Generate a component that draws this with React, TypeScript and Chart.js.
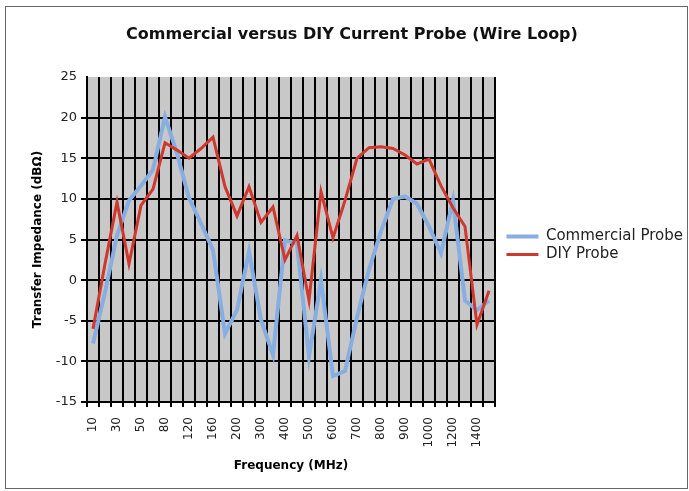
import React, { useEffect, useRef } from 'react';
import { Chart, registerables } from 'chart.js';

Chart.register(...registerables);

const categories = ['10', '20', '30', '40', '50', '60', '80', '100', '120', '140', '160', '180', '200', '250', '300', '350', '400', '450', '500', '550', '600', '650', '700', '750', '800', '850', '900', '950', '1000', '1100', '1200', '1300', '1400', '1500'];

const commercialProbe = [-7.8, -1.5, 5.5, 9.8, 11.6, 13.6, 20.1, 15.6, 10.1, 7.0, 3.7, -6.6, -3.7, 3.5, -4.9, -9.2, 4.9, 4.5, -9.4, 0.0, -11.8, -11.2, -4.6, 1.3, 6.0, 10.0, 10.3, 9.4, 6.6, 3.3, 9.8, -2.5, -3.7, -2.5];

const diyProbe = [-6.0, 2.0, 9.6, 2.0, 9.2, 11.2, 16.9, 16.0, 15.0, 16.2, 17.6, 11.5, 7.9, 11.5, 7.1, 9.0, 2.5, 5.5, -2.5, 10.9, 5.2, 9.8, 15.0, 16.3, 16.4, 16.2, 15.4, 14.3, 14.9, 11.6, 8.9, 6.6, -5.5, -1.3];

const seriesNames = ['Commercial Probe', 'DIY Probe'];
const yMin = -15;
const yMax = 25;
const yStep = 5;

const FONT = '"DejaVu Sans", Verdana, sans-serif';
const W = 689;
const H = 491;

export default function App() {
  const ref = useRef<HTMLCanvasElement>(null);

  useEffect(() => {
    const canvas = ref.current;
    if (!canvas) return;

    const legendFontSize = 15;
    const legendPad = 3;
    const boxW = 32;
    const mctx = document.createElement('canvas').getContext('2d')!;
    mctx.font = `${legendFontSize}px ${FONT}`;
    const textW = Math.max(...seriesNames.map((t) => mctx.measureText(t).width));
    const legendW = legendPad + boxW + legendFontSize / 2 + textW;

    const padLeft = 21;
    const padRight = 6;
    const plotLeft = 87;
    const plotRight = 495;
    const plotBottom = 402;
    const gapW = Math.max(0, W - padRight - legendW - plotRight);

    const bgPlugin = {
      id: 'plotBg',
      beforeDraw(chart: any) {
        const { ctx, chartArea } = chart;
        ctx.save();
        ctx.fillStyle = '#c8c8c8';
        ctx.fillRect(chartArea.left, chartArea.top, chartArea.right - chartArea.left, chartArea.bottom - chartArea.top);
        ctx.restore();
      },
    };

    Chart.defaults.font.family = FONT;

    const chart = new Chart(canvas, {
      type: 'line',
      data: {
        labels: categories,
        datasets: [
          {
            label: seriesNames[0],
            data: commercialProbe,
            borderColor: '#86aee0',
            backgroundColor: '#86aee0',
            borderWidth: 4,
            pointRadius: 0,
            tension: 0,
            order: 1,
          },
          {
            label: seriesNames[1],
            data: diyProbe,
            borderColor: '#d0382d',
            backgroundColor: '#d0382d',
            borderWidth: 3,
            pointRadius: 0,
            tension: 0,
            order: 0,
          },
        ],
      },
      options: {
        animation: false,
        responsive: false,
        layout: { padding: { left: padLeft, right: padRight, top: 0, bottom: 0 } },
        plugins: {
          title: {
            display: true,
            text: 'Commercial versus DIY Current Probe (Wire Loop)',
            font: { size: 16, weight: 'bold' },
            color: '#111',
            padding: { top: 25.4, bottom: 32.4 },
          },
          legend: {
            position: 'right',
            maxWidth: legendW,
            labels: {
              usePointStyle: true,
              pointStyle: 'line',
              pointStyleWidth: boxW,
              padding: legendPad,
              color: '#222',
              font: { size: legendFontSize },
              sort: (a: any, b: any) => a.datasetIndex - b.datasetIndex,
            },
          },
          tooltip: { enabled: false },
        },
        scales: {
          x: {
            type: 'category',
            offset: true,
            grid: { offset: true, color: '#000', lineWidth: 2, tickLength: 5 },
            border: { color: '#000', width: 2 },
            ticks: {
              autoSkip: false,
              maxRotation: 90,
              minRotation: 90,
              padding: 10,
              color: '#222',
              font: { size: 12 },
              callback: (_v: any, i: number) => (i % 2 === 0 ? categories[i] : ''),
            },
            title: {
              display: true,
              text: 'Frequency (MHz)',
              color: '#000',
              font: { size: 12, weight: 'bold' },
              padding: { top: 0, bottom: 17.8 },
            },
            afterFit: (s: any) => {
              s.height = H - plotBottom;
            },
          },
          y: {
            min: yMin,
            max: yMax,
            ticks: { stepSize: yStep, color: '#222', font: { size: 13 }, padding: 4 },
            grid: {
              color: (c: any) => (c.tick && c.tick.value === yMax ? 'rgba(0,0,0,0)' : '#000'),
              lineWidth: 2,
              tickLength: 6,
            },
            border: { color: '#000', width: 2 },
            title: {
              display: true,
              text: 'Transfer Impedance (dBΩ)',
              color: '#000',
              font: { size: 12, weight: 'bold' },
              padding: { top: 9.8, bottom: 0 },
            },
            afterFit: (s: any) => {
              s.width = plotLeft - padLeft;
            },
          },
          gap: {
            type: 'linear',
            position: 'right',
            display: true,
            grid: { display: false, drawTicks: false },
            ticks: { display: false },
            border: { display: false },
            afterFit: (s: any) => {
              s.width = gapW;
            },
          },
        },
      } as any,
      plugins: [bgPlugin],
    });

    return () => chart.destroy();
  }, []);

  return (
    <div style={{ position: 'absolute', left: 0, top: 0, width: W, height: H, overflow: 'hidden', background: '#fff' }}>
      <canvas ref={ref} width={W} height={H} style={{ position: 'absolute', left: 0, top: 0, display: 'block' }} />
      <div
        style={{
          position: 'absolute',
          left: 5,
          top: 6,
          width: 681,
          height: 481,
          border: '1px solid #666',
          pointerEvents: 'none',
        }}
      />
    </div>
  );
}
